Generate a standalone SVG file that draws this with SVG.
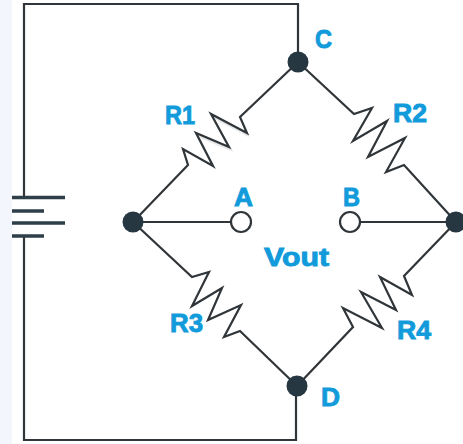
<svg xmlns="http://www.w3.org/2000/svg" width="463" height="444" viewBox="0 0 463 444">
<style>
.w{fill:none;stroke:#2f3539;stroke-width:2.2;stroke-linejoin:miter}
.s{fill:none;stroke:#c9ccce;stroke-width:2;opacity:.45}
.b{fill:none;stroke:#2f3f4a;stroke-width:3.4}
.d{fill:#263742}
.o{fill:#fff;stroke:#2f3539;stroke-width:2.2}
text{font-family:"Liberation Sans",Arial,sans-serif;font-weight:700;font-size:26px;fill:#129bdb;stroke:#129bdb;stroke-width:.9}
</style>
<rect width="463" height="444" fill="#fff"/>
<rect width="12" height="444" fill="#f3f6fc"/>
<g id="connectors">
<path class="s" d="M215 169L198 136L231 150L213 117L249 136"/>
<path class="w" d="M24 197V4H298V62"/>
<path class="w" d="M24 236V440H296V386"/>
<path class="w" d="M133 222L188 165L183 149L213 166L196 133L229 147L211 114L247 133L240 117L298 62"/>
<path class="w" d="M298 62L354 114L372 108L353 141L387 121L368 157L405 138L386 172L404 165L456 222"/>
<path class="w" d="M133 222L192 277L209 272L192 306L222 288L208 320L241 305L224 337L240 331L297 386"/>
<path class="w" d="M456 222L404 276L412 295L380 277L396 310L361 292L382 328L343 308L353 327L297 386"/>
<path class="w" d="M133 222H231M360 222H456"/>
</g>
<g id="battery">
<path class="b" d="M12 197.500H65M12 211H44M12 223H65M12 236H44"/>
</g>
<g id="node-left"><circle class="d" cx="133" cy="222" r="10.500"/></g>
<g id="node-c"><circle class="d" cx="298" cy="62" r="10.500"/><text x="315" y="48" textLength="17" lengthAdjust="spacingAndGlyphs">C</text></g>
<g id="node-right"><circle class="d" cx="456" cy="222" r="10.500"/></g>
<g id="node-d"><circle class="d" cx="297" cy="386" r="10.500"/><text x="321" y="406" textLength="19" lengthAdjust="spacingAndGlyphs">D</text></g>
<g id="node-a"><circle class="o" cx="241" cy="222" r="10"/><text x="234" y="206" textLength="19" lengthAdjust="spacingAndGlyphs">A</text></g>
<g id="node-b"><circle class="o" cx="350" cy="222" r="10"/><text x="343" y="206" textLength="17" lengthAdjust="spacingAndGlyphs">B</text></g>
<g id="r1"><text x="165" y="124" textLength="30" lengthAdjust="spacingAndGlyphs">R1</text></g>
<g id="r2"><text x="393" y="122" textLength="34" lengthAdjust="spacingAndGlyphs">R2</text></g>
<g id="r3"><text x="170" y="332" textLength="33" lengthAdjust="spacingAndGlyphs">R3</text></g>
<g id="r4"><text x="397" y="339" textLength="34" lengthAdjust="spacingAndGlyphs">R4</text></g>
<g id="vout"><text x="264" y="266" textLength="65" lengthAdjust="spacingAndGlyphs">Vout</text></g>
</svg>
